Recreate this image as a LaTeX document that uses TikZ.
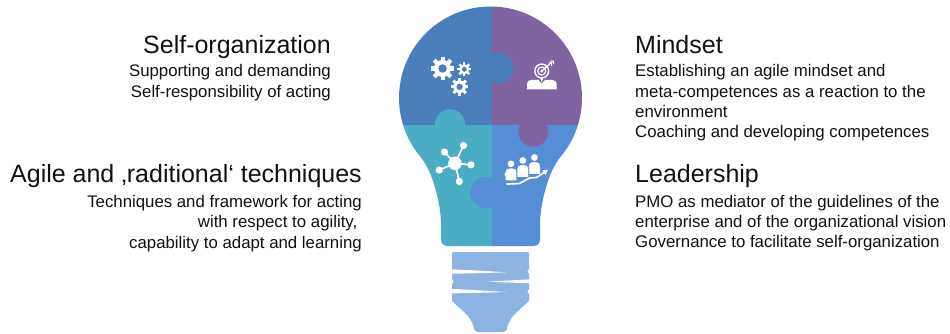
\documentclass[tikz,border=0pt]{standalone}
\usepackage{fontspec}
\setmainfont{Liberation Sans}
\usetikzlibrary{arrows.meta}

\definecolor{ink}{HTML}{111111}
\definecolor{tlBlue}{HTML}{4A7FBB}
\definecolor{trPurple}{HTML}{8064A2}
\definecolor{blTeal}{HTML}{4BACC6}
\definecolor{brBlue}{HTML}{558ED5}
\definecolor{baseBlue}{HTML}{8DB3E2}

% a white cog: centre x, centre y, outer radius, number of teeth, colour of the hole
\newcommand\drawgear[5]{%
  \fill[white] (#1,#2) circle[radius=0.72*#3];
  \foreach \k in {1,...,#4}
    \fill[white, shift={(#1,#2)}, rotate=\k*360/#4] (-0.17*#3,0) rectangle (0.17*#3,#3);
  \fill[#5] (#1,#2) circle[radius=0.36*#3];
}

% a white person seen from the front: head centre x, head centre y, outline colour
\newcommand\drawperson[3]{%
  \fill[white, draw=#3, line width=0.7pt] (#1-5.8,#2+17) -- (#1-5.8,#2+8.5)
    .. controls (#1-5.8,#2+5.2) and (#1-3.8,#2+4.3) .. (#1-1.5,#2+4.3)
    -- (#1+1.5,#2+4.3) .. controls (#1+3.8,#2+4.3) and (#1+5.8,#2+5.2) .. (#1+5.8,#2+8.5)
    -- (#1+5.8,#2+17) -- cycle;
  \fill[white, draw=#3, line width=0.7pt] (#1,#2) circle[radius=3.9];
}

\begin{document}
\begin{tikzpicture}[x=1pt, y=1pt, yscale=-1,
  heading/.style={font=\fontsize{25}{30}\selectfont, text=ink, inner sep=0pt},
  bodytext/.style={font=\fontsize{16.8}{20}\selectfont, text=ink, inner sep=0pt},
  icon/.style={white, line width=1.7pt, line cap=round}]

\useasboundingbox (0,0) rectangle (950,334);

% ---- puzzle bulb ----
\begin{scope}
  \clip (448,246) -- (533,246) .. controls (537.5,246) and (540,243.5) .. (540,239)
    -- (540,225) .. controls (540,205) and (547.7,172) .. (560.59,156.81)
    arc[start angle=40, end angle=-220, radius=91.5]
    .. controls (433.3,172) and (441,205) .. (441,225)
    -- (441,239) .. controls (441,243.5) and (443.5,246) .. (448,246) -- cycle;
  \fill[tlBlue]   (380,0)     rectangle (491.7,125);
  \fill[trPurple] (491.7,0)   rectangle (600,125);
  \fill[blTeal]   (380,125)   rectangle (491.7,260);
  \fill[brBlue]   (491.7,125) rectangle (600,260);
  % puzzle knobs
  \fill[blTeal]   (450,124.3)   circle[radius=15];
  \fill[tlBlue]   (498.3,68.3)  circle[radius=15];
  \fill[trPurple] (533.3,131.7) circle[radius=15];
  \fill[brBlue]   (485.8,192.5) circle[radius=15.5];
\end{scope}

% ---- screw base ----
\fill[baseBlue] (454,252) -- (527,252) .. controls (528.5,252) and (529,252.5) .. (529,254)
  -- (529,301) .. controls (522,308) and (511,315) .. (507.5,326)
  .. controls (507,330) and (506,332) .. (503,332) -- (478,332)
  .. controls (475,332) and (474,330) .. (473.5,326)
  .. controls (470,315) and (459,308) .. (452,301) -- (452,254)
  .. controls (452,252.5) and (452.5,252) .. (454,252) -- cycle;
% thread highlights
\fill[white] (450,269.3) .. controls (475,270.3) .. (506,272.3) .. controls (475,273.3) .. (450,273.8) -- cycle;
\fill[white] (531,279.3) .. controls (510,280.5) .. (488,281.6) .. controls (510,282.3) .. (531,283.4) -- cycle;
\fill[white] (450,288.8) .. controls (475,290) .. (506,292) .. controls (475,293) .. (450,293.4) -- cycle;
\fill[white] (529.8,271.5) circle[radius=2.2];
\fill[white] (529.8,291.5) circle[radius=2.2];
\fill[white] (451.2,281.5) circle[radius=2.2];

% ---- icon: cogs ----
\drawgear{442.5}{68.5}{11.8}{8}{tlBlue}
\drawgear{464.3}{69.3}{6.9}{8}{tlBlue}
\drawgear{459.6}{86.8}{8.8}{8}{tlBlue}

% ---- icon: target on a stand ----
\fill[white] (527,89.5) -- (527,84) .. controls (527,81.5) and (528.5,80) .. (531,80)
  -- (552.5,80) .. controls (555,80) and (556.5,81.5) .. (556.5,84) -- (556.5,89.5) -- cycle;
\fill[trPurple] (538.2,79.5) -- (545.2,79.5) -- (541.7,83.5) -- cycle;
\fill[white] (539.7,76) -- (543.7,76) -- (541.7,82.5) -- cycle;
\fill[white]    (541.7,71) circle[radius=7.6];
\fill[trPurple] (541.7,71) circle[radius=6.1];
\fill[white]    (541.7,71) circle[radius=4.7];
\fill[trPurple] (541.7,71) circle[radius=3.2];
\fill[white]    (541.7,71) circle[radius=1.7];
\draw[white, line width=1.1pt] (541.7,71) -- (552.5,61.5);
\draw[white, line width=1.1pt] (550.5,61) -- (553.3,61.2) -- (553.6,64);
\draw[white, line width=1.1pt] (548.6,62.8) -- (551.4,63) -- (551.7,65.8);

% ---- icon: network hub ----
\foreach \sx/\sy/\sname in {444.5/152/sa, 463.5/145.5/sb, 471/164.8/sc, 459.3/181.5/sd, 439.2/170/se}{
  \coordinate (\sname) at (\sx,\sy);
  \draw[icon] (455,163.3) -- (\sname);
  \fill[white] (\sname) circle[radius=3.6];
}
\fill[white] (455,163.3) circle[radius=6.8];

% ---- icon: team climbing an arrow ----
\drawperson{534.5}{157.5}{brBlue}
\drawperson{522.8}{160.5}{brBlue}
\drawperson{511}{163.8}{brBlue}
\fill[white] (504.5,175) -- (505.2,172.5) -- (507,174) -- (507,178.5) -- cycle;
\draw[white, line width=1.7pt, line cap=round, -{Triangle[length=5pt, width=5.5pt]}]
  (507,184) -- (519.5,183.5) -- (529.5,178) -- (536.5,177.5) -- (548,169.8);

% ---- left texts ----
\node[heading,  anchor=base east] (selforg)  at (331,54) {Self-organization};
\node[bodytext, anchor=base east] (selforg1) at (331,77) {Supporting and demanding};
\node[bodytext, anchor=base east] (selforg2) at (331,98) {Self-responsibility of acting};

\node[heading,  anchor=base east] (tech)  at (362,182) {Agile and ‚raditional‘ techniques};
\node[bodytext, anchor=base east] (tech1) at (362,207) {Techniques and framework for acting};
\node[bodytext, anchor=base east] (tech2) at (357.5,227) {with respect to agility,};
\node[bodytext, anchor=base east] (tech3) at (362,248) {capability to adapt and learning};

% ---- right texts ----
\node[heading,  anchor=base west] (mind)  at (635,54) {Mindset};
\node[bodytext, anchor=base west] (mind1) at (635,77) {Establishing an agile mindset and};
\node[bodytext, anchor=base west] (mind2) at (635,97.5) {meta-competences as a reaction to the};
\node[bodytext, anchor=base west] (mind3) at (635,118) {environment};
\node[bodytext, anchor=base west] (mind4) at (635,138) {Coaching and developing competences};

\node[heading,  anchor=base west] (lead)  at (635,182) {Leadership};
\node[bodytext, anchor=base west] (lead1) at (635,207) {PMO as mediator of the guidelines of the};
\node[bodytext, anchor=base west] (lead2) at (635,227) {enterprise and of the organizational vision};
\node[bodytext, anchor=base west] (lead3) at (635,247) {Governance to facilitate self-organization};

\end{tikzpicture}
\end{document}
